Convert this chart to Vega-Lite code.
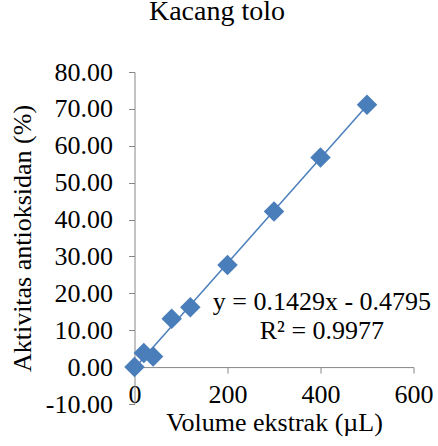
{
  "$schema": "https://vega.github.io/schema/vega-lite/v6.json",
  "width": 279,
  "height": 332,
  "autosize": {"type": "none"},
  "padding": {"left": 134.5, "top": 72, "right": 24.5, "bottom": 42},
  "background": "white",
  "title": {
    "text": "Kacang tolo",
    "font": "Liberation Serif",
    "fontSize": 28,
    "fontWeight": "normal",
    "color": "black",
    "anchor": "middle",
    "frame": "group",
    "dx": -57,
    "offset": 33
  },
  "config": {
    "view": {"stroke": null},
    "axis": {
      "grid": false,
      "labelOverlap": false,
      "domainColor": "#868686",
      "tickColor": "#868686",
      "domainWidth": 1,
      "tickWidth": 1,
      "labelFont": "Liberation Serif",
      "labelFontSize": 26,
      "labelColor": "black",
      "titleFont": "Liberation Serif",
      "titleFontSize": 26,
      "titleFontWeight": "normal",
      "titleColor": "black"
    }
  },
  "datasets": {
    "pts": [
      {"volume": 0, "aktivitas": 0.0},
      {"volume": 20, "aktivitas": 3.8},
      {"volume": 40, "aktivitas": 2.9},
      {"volume": 80, "aktivitas": 13.1},
      {"volume": 120, "aktivitas": 16.2},
      {"volume": 200, "aktivitas": 27.7},
      {"volume": 300, "aktivitas": 42.2},
      {"volume": 400, "aktivitas": 56.8},
      {"volume": 500, "aktivitas": 71.1}
    ],
    "eqn": [
      {"line": 1, "label": "y = 0.1429x - 0.4795"},
      {"line": 2, "label": "R² = 0.9977"}
    ]
  },
  "layer": [
    {
      "data": {"name": "pts"},
      "transform": [
        {"regression": "aktivitas", "on": "volume", "extent": [0, 500]}
      ],
      "mark": {"type": "line", "color": "#4A7EBB", "strokeWidth": 1.5},
      "encoding": {
        "x": {
          "field": "volume",
          "type": "quantitative",
          "scale": {"domain": [0, 600], "nice": false, "zero": false},
          "axis": {
            "title": "Volume ekstrak (µL)",
            "values": [0, 200, 400, 600],
            "offset": -36.9,
            "tickSize": 6,
            "labelPadding": 8,
            "labelFlush": false,
            "labelOverlap": false,
            "titlePadding": 2
          }
        },
        "y": {
          "field": "aktivitas",
          "type": "quantitative",
          "scale": {"domain": [-10, 80], "nice": false, "zero": false},
          "axis": {
            "title": "Aktivitas antioksidan (%)",
            "values": [-10, 0, 10, 20, 30, 40, 50, 60, 70, 80],
            "labelExpr": "replace(format(datum.value, '.2f'), '\u2212', '-')",
            "tickSize": 6,
            "labelPadding": 16,
            "labelOverlap": false,
            "labelBound": false,
            "titlePadding": 10
          }
        }
      }
    },
    {
      "data": {"name": "pts"},
      "mark": {
        "type": "point",
        "shape": "diamond",
        "filled": true,
        "size": 420,
        "color": "#4A7EBB",
        "opacity": 1
      },
      "encoding": {
        "x": {
          "field": "volume",
          "type": "quantitative",
          "scale": {"domain": [0, 600], "nice": false, "zero": false},
          "axis": {
            "title": "Volume ekstrak (µL)",
            "values": [0, 200, 400, 600],
            "offset": -36.9,
            "tickSize": 6,
            "labelPadding": 8,
            "labelFlush": false,
            "labelOverlap": false,
            "titlePadding": 2
          }
        },
        "y": {
          "field": "aktivitas",
          "type": "quantitative",
          "scale": {"domain": [-10, 80], "nice": false, "zero": false},
          "axis": {
            "title": "Aktivitas antioksidan (%)",
            "values": [-10, 0, 10, 20, 30, 40, 50, 60, 70, 80],
            "labelExpr": "replace(format(datum.value, '.2f'), '\u2212', '-')",
            "tickSize": 6,
            "labelPadding": 16,
            "labelOverlap": false,
            "labelBound": false,
            "titlePadding": 10
          }
        }
      }
    },
    {
      "data": {"name": "eqn"},
      "transform": [{"filter": "datum.line == 1"}],
      "mark": {
        "type": "text",
        "font": "Liberation Serif",
        "fontSize": 26,
        "fill": "black",
        "align": "center",
        "baseline": "middle"
      },
      "encoding": {
        "x": {
          "datum": 403,
          "type": "quantitative",
          "scale": {"domain": [0, 600], "nice": false, "zero": false},
          "axis": {
            "title": "Volume ekstrak (µL)",
            "values": [0, 200, 400, 600],
            "offset": -36.9,
            "tickSize": 6,
            "labelPadding": 8,
            "labelFlush": false,
            "labelOverlap": false,
            "titlePadding": 2
          }
        },
        "y": {
          "datum": 17.7,
          "type": "quantitative",
          "scale": {"domain": [-10, 80], "nice": false, "zero": false},
          "axis": {
            "title": "Aktivitas antioksidan (%)",
            "values": [-10, 0, 10, 20, 30, 40, 50, 60, 70, 80],
            "labelExpr": "replace(format(datum.value, '.2f'), '\u2212', '-')",
            "tickSize": 6,
            "labelPadding": 16,
            "labelOverlap": false,
            "labelBound": false,
            "titlePadding": 10
          }
        },
        "text": {"field": "label", "type": "nominal"}
      }
    },
    {
      "data": {"name": "eqn"},
      "transform": [{"filter": "datum.line == 2"}],
      "mark": {
        "type": "text",
        "font": "Liberation Serif",
        "fontSize": 26,
        "fill": "black",
        "align": "center",
        "baseline": "middle"
      },
      "encoding": {
        "x": {
          "datum": 403,
          "type": "quantitative",
          "scale": {"domain": [0, 600], "nice": false, "zero": false},
          "axis": {
            "title": "Volume ekstrak (µL)",
            "values": [0, 200, 400, 600],
            "offset": -36.9,
            "tickSize": 6,
            "labelPadding": 8,
            "labelFlush": false,
            "labelOverlap": false,
            "titlePadding": 2
          }
        },
        "y": {
          "datum": 9.8,
          "type": "quantitative",
          "scale": {"domain": [-10, 80], "nice": false, "zero": false},
          "axis": {
            "title": "Aktivitas antioksidan (%)",
            "values": [-10, 0, 10, 20, 30, 40, 50, 60, 70, 80],
            "labelExpr": "replace(format(datum.value, '.2f'), '\u2212', '-')",
            "tickSize": 6,
            "labelPadding": 16,
            "labelOverlap": false,
            "labelBound": false,
            "titlePadding": 10
          }
        },
        "text": {"field": "label", "type": "nominal"}
      }
    }
  ]
}
